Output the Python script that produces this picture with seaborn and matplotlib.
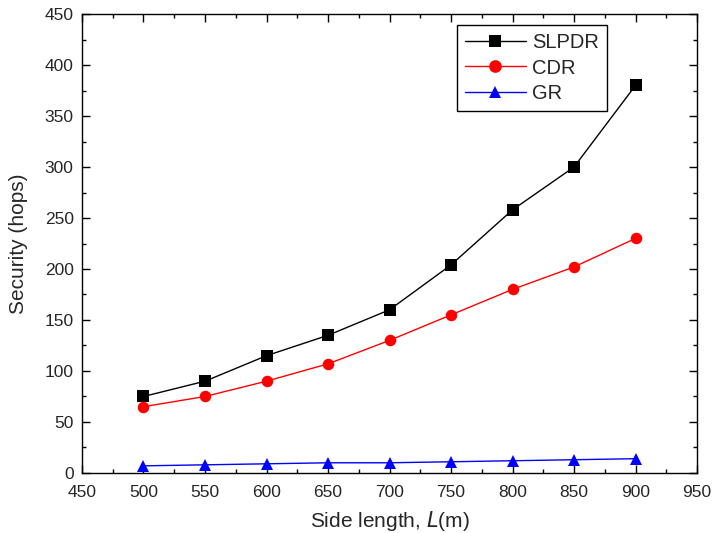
import matplotlib
matplotlib.use("Agg")
import matplotlib.pyplot as plt
import seaborn as sns
import pandas as pd
from matplotlib.ticker import MultipleLocator

side_length = [500, 550, 600, 650, 700, 750, 800, 850, 900]
slpdr = [75, 90, 115, 135, 160, 204, 258, 300, 380]
cdr = [65, 75, 90, 107, 130, 155, 180, 202, 230]
gr = [7, 8, 9, 10, 10, 11, 12, 13, 14]

sns.set_theme(style="ticks")
plt.rcParams['font.family'] = ['Liberation Sans', 'DejaVu Sans']

df = pd.DataFrame({
    "L": side_length * 3,
    "v": slpdr + cdr + gr,
    "s": ["SLPDR"] * 9 + ["CDR"] * 9 + ["GR"] * 9,
})

fig = plt.figure(figsize=(7.13, 5.33), dpi=100)
ax = fig.add_axes([0.115, 0.1126, 0.8626, 0.8611])

palette = {"SLPDR": "black", "CDR": "red", "GR": "blue"}
markers = {"SLPDR": "s", "CDR": "o", "GR": "^"}
sns.lineplot(data=df, x="L", y="v", hue="s", style="s", palette=palette,
             markers=markers, dashes=False, markersize=8.3, linewidth=1,
             markeredgewidth=0, ax=ax)

ax.set_xlim(450, 950)
ax.set_ylim(0, 450)
ax.xaxis.set_major_locator(MultipleLocator(50))
ax.xaxis.set_minor_locator(MultipleLocator(25))
ax.yaxis.set_major_locator(MultipleLocator(50))
ax.yaxis.set_minor_locator(MultipleLocator(25))
ax.tick_params(which="both", direction="in", top=True, right=True, labelsize=12.5, color="black", width=1)
ax.tick_params(which="major", length=6)
ax.tick_params(which="minor", length=3)
ax.tick_params(axis="x", which="major", pad=9)
ax.tick_params(axis="y", which="major", pad=6)
for sp in ax.spines.values():
    sp.set_color("black")
    sp.set_linewidth(1)

ax.set_xlabel("Side length, $\\it{L}$(m)", fontsize=15, labelpad=6)
ax.set_ylabel("Security (hops)", fontsize=15, labelpad=12)

leg = ax.legend(loc="upper left", bbox_to_anchor=(0.61, 0.976), fontsize=14.5,
                frameon=True, fancybox=False, edgecolor="black", framealpha=1,
                handlelength=3.0, handletextpad=0.3, borderpad=0.4,
                labelspacing=0.32, borderaxespad=0, markerscale=1.1)
leg.get_frame().set_linewidth(1)

fig.savefig("out.png", dpi=100)
